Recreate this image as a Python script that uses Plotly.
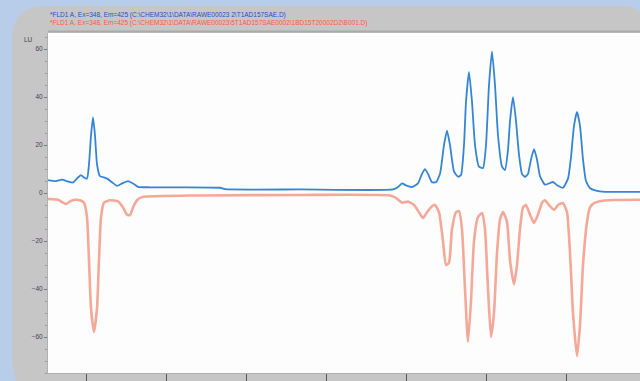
import plotly.graph_objects as go

# ---- data (retention time in min, signal in LU) ----
blue_t = [1.05, 1.25, 1.40, 1.55, 1.675, 1.80, 1.875, 1.95, 2.025, 2.075, 2.125, 2.175, 2.225, 2.275,
          2.35, 2.45, 2.55, 2.65, 2.775, 2.90, 3.05, 3.175, 3.30, 3.60, 4.35, 5.35, 5.475, 7.35, 9.675,
          9.80, 9.90, 10.0, 10.15, 10.30, 10.40, 10.475, 10.55, 10.65, 10.75, 10.85, 10.95, 11.025,
          11.10, 11.20, 11.30, 11.375, 11.45, 11.50, 11.575, 11.65, 11.725, 11.825, 11.925, 12.0,
          12.075, 12.15, 12.225, 12.30, 12.40, 12.475, 12.55, 12.60, 12.675, 12.75, 12.825, 12.90,
          12.975, 13.05, 13.125, 13.20, 13.275, 13.35, 13.475, 13.575, 13.675, 13.80, 13.925, 14.05,
          14.125, 14.20, 14.275, 14.35, 14.425, 14.50, 14.60, 14.75, 14.975, 15.85]
blue_v = [5.4, 5.0, 5.6, 4.8, 4.4, 6.5, 7.5, 6.5, 6.0, 12, 24, 31.5, 24, 12,
          7, 6.5, 5.8, 4.5, 3.0, 4.0, 5.0, 4.0, 2.6, 2.4, 2.4, 2.2, 1.6, 1.5, 1.5,
          2.5, 4.0, 3.2, 2.5, 4, 8, 10, 8, 4.5, 4.5, 8, 20, 26,
          20, 9, 6.8, 7.5, 20, 38, 50.5, 38, 20, 11, 10.4, 20,
          45, 59, 45, 24, 11, 9.6, 18, 30, 40, 30, 16, 8,
          6.7, 8, 14, 18.3, 14, 7, 3.5, 4.0, 4.6, 3.0, 2.2, 6,
          15, 28, 33.8, 28, 14, 5, 2.0, 1.0, 0.5, 0.5]

red_t = [1.05, 1.30, 1.425, 1.50, 1.60, 1.725, 1.85, 1.95, 2.025, 2.075, 2.125, 2.20, 2.275, 2.325,
         2.375, 2.45, 2.60, 2.80, 2.925, 3.025, 3.10, 3.175, 3.275, 3.40, 4.85, 7.35, 9.60, 9.75,
         9.90, 10.05, 10.20, 10.325, 10.425, 10.525, 10.65, 10.725, 10.825, 10.925, 11.0, 11.075,
         11.15, 11.25, 11.325, 11.40, 11.475, 11.55, 11.625, 11.70, 11.80, 11.90, 11.975, 12.05,
         12.125, 12.20, 12.275, 12.35, 12.425, 12.525, 12.60, 12.70, 12.775, 12.85, 12.925, 13.0,
         13.10, 13.20, 13.30, 13.40, 13.475, 13.575, 13.70, 13.80, 13.925, 14.025, 14.10, 14.175,
         14.275, 14.35, 14.425, 14.525, 14.60, 14.70, 14.925, 15.175, 15.85]
red_v = [-2.5, -2.8, -4.0, -4.6, -3.5, -2.8, -3.0, -4, -10, -28, -48, -58, -48, -28,
         -10, -4, -3, -3.5, -6, -9, -9.2, -6, -3, -1.7, -1.0, -0.8, -1.0, -2.0,
         -4.0, -3.5, -5, -8, -10.4, -8, -5.5, -5, -8, -20, -30, -29,
         -15, -8, -7.5, -15, -40, -62, -45, -20, -10, -8.3, -15, -40,
         -60, -50, -25, -11, -7.9, -12, -28, -38, -30, -15, -6, -5,
         -9, -12.5, -9, -4, -3, -5, -7, -5, -4.2, -8, -25, -50,
         -68, -55, -30, -12, -6, -4.2, -3.2, -2.9, -2.8]

y_ticks = [-60, -40, -20, 0, 20, 40, 60]
x_ticks = [2, 4, 6, 8, 10, 12, 14]
title_blue = "*FLD1 A, Ex=348, Em=425 (C:\\CHEM32\\1\\DATA\\RAWE00023 2\\T1AD157SAE.D)"
title_red = "*FLD1 A, Ex=348, Em=425 (C:\\CHEM32\\1\\DATA\\RAWE00023\\5T1AD157SAE0002\\1BD15T20002D2\\B001.D)"

W, H = 640, 381
L, R, T, B = 48, 0, 33, 8
PW, PH = W - L - R, H - T - B


def px(x):
    return (x - L) / PW


def py(y):
    return (H - B - y) / PH


def path(cmds):
    out = []
    for c in cmds:
        if isinstance(c, str):
            out.append(c)
        else:
            out.append(f"{px(c[0]):.4f},{py(c[1]):.4f}")
    return " ".join(out)


panel = path(["M", (46, 6), "L", (624, 6), "Q", (641, 6), (642, 22), "L", (642, 400),
              "L", (34, 400), "Q", (12, 390), (12, 355), "L", (12, 40), "Q", (12, 6), (46, 6), "Z"])

fig = go.Figure()
fig.add_trace(go.Scatter(x=red_t, y=red_v, mode="lines",
                         line=dict(color="#f6a898", width=2.6, shape="spline", smoothing=0.5),
                         showlegend=False))
fig.add_trace(go.Scatter(x=blue_t, y=blue_v, mode="lines",
                         line=dict(color="#3585d6", width=1.8, shape="spline", smoothing=0.5),
                         showlegend=False))

shapes = [
    dict(type="path", path=panel, xref="paper", yref="paper", fillcolor="#c6c6c6",
         line=dict(width=0), layer="below"),
    dict(type="rect", x0=px(48), x1=px(642), y0=py(32.5), y1=py(30.5), xref="paper", yref="paper",
         fillcolor="#aaaaaa", line=dict(width=0), layer="below"),
    dict(type="rect", x0=0, x1=1.01, y0=0, y1=1, xref="paper", yref="paper",
         fillcolor="#fefdfd", line=dict(width=0), layer="below"),
]

annotations = [
    dict(text=title_blue, x=px(48), y=py(15), xref="paper", yref="paper", xanchor="left",
         yanchor="middle", showarrow=False, font=dict(size=6.5, color="#2450c8", family="Liberation Sans")),
    dict(text=title_red, x=px(48), y=py(22.5), xref="paper", yref="paper", xanchor="left",
         yanchor="middle", showarrow=False, font=dict(size=6.5, color="#ff5a3c", family="Liberation Sans")),
    dict(text="LU", x=px(28), y=py(39), xref="paper", yref="paper", xanchor="center",
         yanchor="middle", showarrow=False, font=dict(size=6.5, color="#444444", family="Liberation Sans")),
]

fig.update_layout(
    width=W, height=H,
    margin=dict(l=L, r=R, t=T, b=B, pad=0, autoexpand=False),
    paper_bgcolor="#b7cde9",
    plot_bgcolor="rgba(0,0,0,0)",
    shapes=shapes,
    annotations=annotations,
    xaxis=dict(range=[1.05, 15.85], tickvals=x_ticks, showticklabels=False, ticks="outside",
               ticklen=7, tickcolor="#555555", tickwidth=1, showgrid=False, zeroline=False,
               showline=True, linecolor="#b0b0b0", linewidth=1, automargin=False),
    yaxis=dict(range=[-75, 66.7], tickvals=y_ticks, ticks="outside", ticklen=3, tickcolor="#777777",
               tickfont=dict(size=6.5, color="#444444", family="Liberation Sans"),
               showgrid=False, zeroline=False, showline=True, linecolor="#b0b0b0", linewidth=1,
               automargin=False,
               minor=dict(dtick=5, ticks="outside", ticklen=2, tickcolor="#999999")),
)

fig.write_html("out.html", config={"displayModeBar": False},
               post_script="document.body.style.margin='0';document.body.style.overflow='hidden';")
